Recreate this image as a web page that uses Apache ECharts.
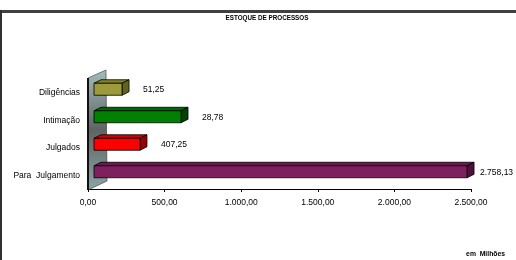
<!DOCTYPE html>
<html><head><meta charset="utf-8">
<script src="https://cdn.jsdelivr.net/npm/echarts@6/dist/echarts.min.js"></script>
<style>html,body{margin:0;padding:0;background:#fff}#c{width:516px;height:260px}</style>
</head><body><div id="c"></div>
<script>
const titleText = 'ESTOQUE DE PROCESSOS';
const unitText = 'em  Milhões';
const categories = ['Diligências', 'Intimação', 'Julgados', 'Para  Julgamento'];
const barValues = [183, 568, 300, 2435];
const labelTexts = ['51,25', '28,78', '407,25', '2.758,13'];
const xTicks = [0, 500, 1000, 1500, 2000, 2500];
const colors = [
  ['#9C9A3A', '#878528', '#64631E'],
  ['#008000', '#006600', '#004400'],
  ['#FF0000', '#D40000', '#990000'],
  ['#7E1F5E', '#6A184E', '#4E1039']
];
const FONT = 'Liberation Sans, Arial, sans-serif';
function fmt(v){
  const s = v.toFixed(2).split('.');
  return s[0].replace(/\B(?=(\d{3})+(?!\d))/g, '.') + ',' + s[1];
}
const chart = echarts.init(document.getElementById('c'), null, {renderer:'canvas'});
const data = barValues.map((v,i)=>[v,i]);
chart.setOption({
  animation:false,
  backgroundColor:'#fff',
  graphic:[
    {type:'rect', shape:{x:0,y:10,width:516,height:3}, style:{fill:'#404040'}, z:100},
    {type:'rect', shape:{x:0,y:10,width:2,height:250}, style:{fill:'#303030'}, z:100},
    {type:'text', x:267, y:18, style:{text:titleText, font:'bold 6.3px '+FONT, fill:'#000', textAlign:'center', textVerticalAlign:'middle'}},
    {type:'text', x:505, y:254, style:{text:unitText, font:'bold 6.8px '+FONT, fill:'#000', textAlign:'right', textVerticalAlign:'middle'}}
  ],
  grid:{left:88, top:79, width:383, height:110},
  xAxis:{type:'value', min:xTicks[0], max:xTicks[xTicks.length-1], interval:500,
    splitLine:{show:false},
    axisLine:{show:true, lineStyle:{color:'#000', width:1}},
    axisTick:{show:true, length:3, lineStyle:{color:'#000'}},
    axisLabel:{formatter:fmt, fontFamily:FONT, fontSize:8.5, color:'#000', margin:9}
  },
  yAxis:{type:'category', data:categories, inverse:true,
    axisLine:{show:false}, axisTick:{show:false},
    axisLabel:{fontFamily:FONT, fontSize:8.5, color:'#000', margin:8}
  },
  series:[
    {type:'custom', z:1, data:[[0,0]], encode:{x:0,y:1}, silent:true,
      renderItem:function(params, api){
        const cs = params.coordSys;
        const x = cs.x, y = cs.y, h = cs.height;
        return {type:'group', children:[
          {type:'polygon', shape:{points:[[x,y-1],[x+18,y-9],[x+19,y+h-8],[x,y+h+1]]},
            style:{fill:new echarts.graphic.LinearGradient(0,0,0,1,[
              {offset:0,color:'#A3BDBD'},{offset:0.5,color:'#5F6464'},{offset:1,color:'#8AA5A5'}]),
              stroke:'#333', lineWidth:0.6}},
          {type:'line', shape:{x1:x,y1:y-1,x2:x,y2:y+h+1}, style:{stroke:'#111', lineWidth:2}}
        ]};
      }
    },
    {type:'custom', z:2, data:data, encode:{x:0,y:1}, silent:true,
      renderItem:function(params, api){
        const v = api.value(0), idx = api.value(1);
        const p0 = api.coord([0, idx]), p1 = api.coord([v, idx]);
        const cy = p0[1] - 3.5, hh = 6, dx = 7, dy = -3.5;
        const x0 = p0[0] + 6, x1 = p1[0] + 6;
        const c = colors[idx];
        const st = (f)=>({fill:f, stroke:'#000', lineWidth:0.8});
        let tx = Math.min(x1 + dx + 14, 480);
        return {type:'group', children:[
          {type:'polygon', shape:{points:[[x0,cy-hh],[x0+dx,cy-hh+dy],[x1+dx,cy-hh+dy],[x1,cy-hh]]}, style:st(c[1])},
          {type:'polygon', shape:{points:[[x1,cy-hh],[x1+dx,cy-hh+dy],[x1+dx,cy+hh+dy],[x1,cy+hh]]}, style:st(c[2])},
          {type:'rect', shape:{x:x0,y:cy-hh,width:x1-x0,height:2*hh}, style:st(c[0])},
          {type:'text', x:tx, y:cy+0.5, style:{text:labelTexts[idx], font:'8.5px '+FONT, fill:'#000', textAlign:'left', textVerticalAlign:'middle'}}
        ]};
      }
    }
  ]
});
</script></body></html>
